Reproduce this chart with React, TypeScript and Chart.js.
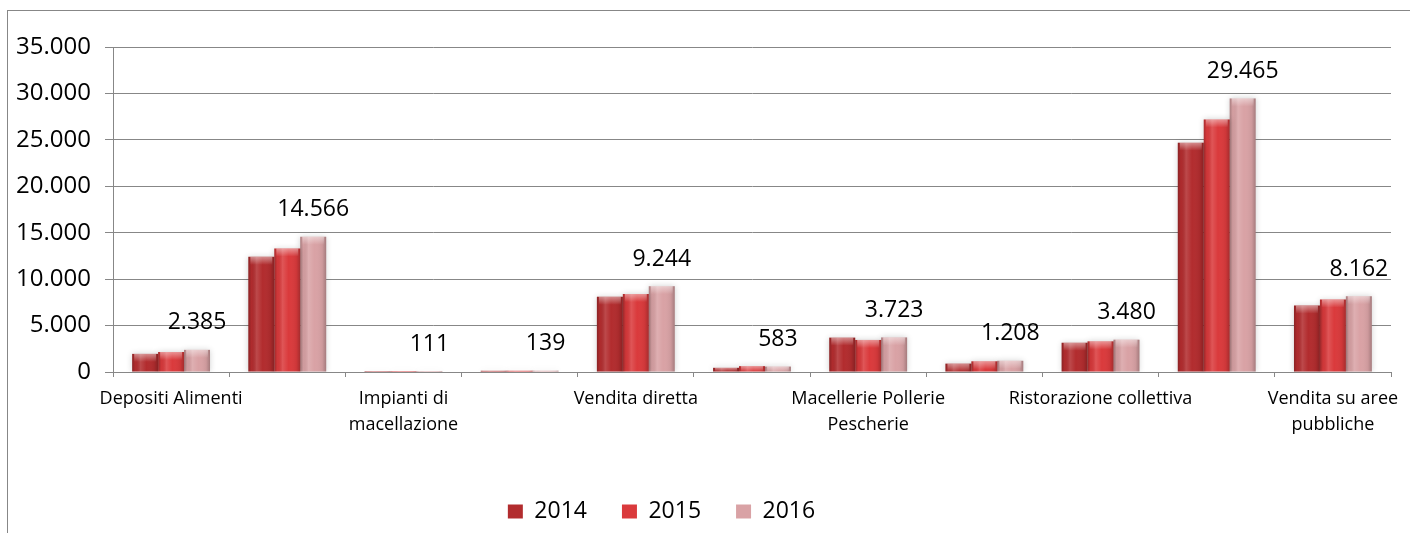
import React, { useEffect, useRef } from "react";
import { Chart, registerables } from "chart.js";

Chart.register(...registerables);

// Categories (only every other label is printed in the original chart)
const CATEGORIES: (string | string[])[] = [
  "Depositi Alimenti",
  "",
  ["Impianti di", "macellazione"],
  "",
  "Vendita diretta",
  "",
  ["Macellerie Pollerie", "Pescherie"],
  "",
  "Ristorazione collettiva",
  "",
  ["Vendita su aree", "pubbliche"],
];

const SERIES_NAMES = ["2014", "2015", "2016"];
const VALUES_2014 = [1950, 12400, 100, 130, 8100, 450, 3700, 900, 3150, 24700, 7150];
const VALUES_2015 = [2150, 13300, 105, 135, 8400, 630, 3450, 1150, 3300, 27200, 7800];
const VALUES_2016 = [2385, 14566, 111, 139, 9244, 583, 3723, 1208, 3480, 29465, 8162];
const SERIES_COLORS = ["#B22C2E", "#DA3A3C", "#D9A2A5"];

const Y_MIN = 0;
const Y_MAX = 35000;
const Y_STEP = 5000;

const FONT = "'Open Sans', 'Noto Sans', sans-serif";
const GRID = "#878787";

const fmt = (v: number) => String(Math.round(v)).replace(/\B(?=(\d{3})+(?!\d))/g, ".");

const framePlugin = {
  id: "frame",
  beforeDraw(chart: any) {
    const ctx = chart.ctx;
    ctx.save();
    ctx.fillStyle = "#ffffff";
    ctx.fillRect(0, 0, chart.width, chart.height);
    ctx.strokeStyle = GRID;
    ctx.lineWidth = 1;
    ctx.strokeRect(7.5, 10.5, chart.width + 50, chart.height + 50);
    ctx.restore();
  },
};

const legendShiftPlugin = {
  id: "legendShift",
  afterLayout(chart: any) {
    const l = chart.legend;
    if (l) {
      l.left -= 34;
      l.right -= 34;
    }
  },
};

const barShadePlugin = {
  id: "barShade",
  beforeDatasetsDraw(chart: any) {
    const ctx = chart.ctx;
    ctx.save();
    ctx.shadowColor = "rgba(0,0,0,0.18)";
    ctx.shadowBlur = 6;
  },
  afterDatasetsDraw(chart: any) {
    const ctx = chart.ctx;
    ctx.restore();
    ctx.save();
    chart.data.datasets.forEach((_: any, di: number) => {
      const meta = chart.getDatasetMeta(di);
      meta.data.forEach((el: any) => {
        const w = el.width;
        const x0 = el.x - w / 2;
        const top = Math.min(el.y, el.base);
        const h = Math.abs(el.base - el.y);
        if (h <= 0) return;
        const g = ctx.createLinearGradient(x0, 0, x0 + w, 0);
        g.addColorStop(0, "rgba(0,0,0,0.22)");
        g.addColorStop(0.12, "rgba(0,0,0,0.02)");
        g.addColorStop(0.32, "rgba(255,255,255,0.14)");
        g.addColorStop(0.55, "rgba(255,255,255,0.0)");
        g.addColorStop(0.85, "rgba(0,0,0,0.06)");
        g.addColorStop(1, "rgba(0,0,0,0.24)");
        ctx.fillStyle = g;
        ctx.fillRect(x0, top, w, h);
        const capH = Math.min(8, h);
        const vg = ctx.createLinearGradient(0, top, 0, top + capH);
        vg.addColorStop(0, "rgba(255,255,255,0.45)");
        vg.addColorStop(1, "rgba(255,255,255,0)");
        ctx.fillStyle = vg;
        ctx.fillRect(x0 + 2, top, w - 4, capH);
      });
    });
    ctx.restore();

    // value labels on the 2016 series
    const meta = chart.getDatasetMeta(2);
    const data = chart.data.datasets[2].data as number[];
    ctx.save();
    ctx.fillStyle = "#000";
    ctx.font = `23px ${FONT}`;
    ctx.textAlign = "center";
    ctx.textBaseline = "middle";
    meta.data.forEach((el: any, i: number) => {
      ctx.fillText(fmt(data[i]), el.x, el.y - 27);
    });
    ctx.restore();
  },
};

export default function App() {
  const ref = useRef<HTMLCanvasElement | null>(null);

  useEffect(() => {
    if (!ref.current) return;
    const chart = new Chart(ref.current, {
      type: "bar",
      data: {
        labels: CATEGORIES,
        datasets: [
          { label: SERIES_NAMES[0], data: VALUES_2014, backgroundColor: SERIES_COLORS[0] },
          { label: SERIES_NAMES[1], data: VALUES_2015, backgroundColor: SERIES_COLORS[1] },
          { label: SERIES_NAMES[2], data: VALUES_2016, backgroundColor: SERIES_COLORS[2] },
        ],
      },
      options: {
        responsive: false,
        animation: false,
        devicePixelRatio: 1,
        layout: { padding: { left: 0, right: 19, top: 47, bottom: 0 } },
        datasets: {
          bar: { categoryPercentage: 0.67, barPercentage: 1.0 },
        },
        plugins: {
          tooltip: { enabled: false },
          legend: {
            position: "bottom",
            labels: {
              boxWidth: 15,
              boxHeight: 14,
              padding: 35,
              color: "#000",
              font: { family: FONT, size: 23 },
            },
          },
        },
        scales: {
          x: {
            offset: true,
            grid: {
              display: true,
              offset: true,
              drawOnChartArea: false,
              drawTicks: true,
              tickLength: 5,
              color: GRID,
            },
            border: { display: true, color: GRID },
            ticks: {
              autoSkip: false,
              maxRotation: 0,
              minRotation: 0,
              padding: 9,
              color: "#000",
              font: { family: FONT, size: 18, lineHeight: 1.45 },
            },
            afterFit(scale: any) {
              scale.height = 93;
            },
          },
          y: {
            min: Y_MIN,
            max: Y_MAX,
            grid: { color: GRID, tickLength: 8, drawTicks: true },
            border: { display: true, color: GRID },
            ticks: {
              stepSize: Y_STEP,
              padding: 14,
              color: "#000",
              font: { family: FONT, size: 24 },
              callback: (v: any) => fmt(Number(v)),
            },
            afterFit(scale: any) {
              scale.width = 113;
            },
          },
        },
      },
      plugins: [framePlugin, legendShiftPlugin, barShadePlugin],
    });
    return () => chart.destroy();
  }, []);

  return (
    <div style={{ position: "fixed", left: 0, top: 0, width: 1410, height: 533, background: "#fff" }}>
      <canvas ref={ref} width={1410} height={533} style={{ display: "block", width: 1410, height: 533 }} />
    </div>
  );
}
